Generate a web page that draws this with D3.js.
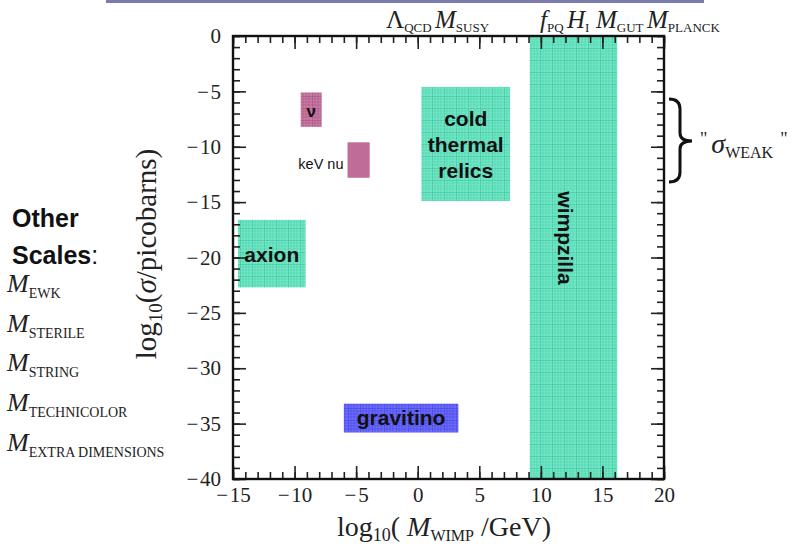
<!DOCTYPE html>
<html>
<head>
<meta charset="UTF-8">
<script src="https://d3js.org/d3.v7.min.js"></script>
<style>
  body { margin: 0; background: #fff; }
  svg { display: block; }
  .sans { font-family: 'Liberation Sans', Arial, sans-serif; }
  .tick text { font-family: 'Liberation Serif', serif; font-size: 21px; fill: #222; }
  .domain { display: none; }
</style>
</head>
<body>
<svg width="792" height="547"></svg>
<script>
  // axis ranges and ticks
  const xDomain = [-15, 20];
  const yDomain = [-40, 0];
  const xMajor = [-15, -10, -5, 0, 5, 10, 15, 20];
  const yMajor = [0, -5, -10, -15, -20, -25, -30, -35, -40];

  // candidate regions: [x0, x1] in log10(M/GeV), [y0, y1] in log10(sigma/pb)
  const regions = [
    { name: "axion", x: [-14.6, -9.1], y: [-22.7, -16.6], fill: "teal" },
    { name: "ν", x: [-9.5, -7.8], y: [-8.2, -5.1], fill: "pinkgrid" },
    { name: "keV nu", x: [-5.7, -3.9], y: [-12.8, -9.6], fill: "pink" },
    { name: "cold thermal relics", x: [0.3, 7.5], y: [-14.9, -4.6], fill: "teal" },
    { name: "gravitino", x: [-6.0, 3.3], y: [-35.8, -33.2], fill: "blue" },
    { name: "wimpzilla", x: [9.1, 16.2], y: [-40, 0], fill: "teal" }
  ];

  // scale labels above the plot: [symbol, subscript, italic]
  const topScales = [["Λ", "QCD", false], ["M", "SUSY", true], ["f", "PQ", true],
                     ["H", "I", true], ["M", "GUT", true], ["M", "PLANCK", true]];
  const topScaleX = [386, 435, 540, 567, 596, 647];
  const otherScales = ["EWK", "STERILE", "STRING", "TECHNICOLOR", "EXTRA DIMENSIONS"];

  const svg = d3.select("svg");
  const pl = 233, pr = 664, pt = 36, pb = 479;

  const x = d3.scaleLinear().domain(xDomain).range([pl, pr]);
  const y = d3.scaleLinear().domain(yDomain).range([pb, pt]);

  // grid patterns
  const defs = svg.append("defs");
  function gridPattern(id, bg, minor, major) {
    const p = defs.append("pattern").attr("id", id)
      .attr("patternUnits", "userSpaceOnUse")
      .attr("width", 12).attr("height", 12);
    p.append("rect").attr("width", 12).attr("height", 12).attr("fill", bg);
    [3, 6, 9].forEach(v => {
      p.append("line").attr("x1", v).attr("x2", v).attr("y1", 0).attr("y2", 12)
        .attr("stroke", minor).attr("stroke-width", 0.6);
      p.append("line").attr("y1", v).attr("y2", v).attr("x1", 0).attr("x2", 12)
        .attr("stroke", minor).attr("stroke-width", 0.6);
    });
    p.append("line").attr("x1", 0).attr("x2", 0).attr("y1", 0).attr("y2", 12)
      .attr("stroke", major).attr("stroke-width", 0.8);
    p.append("line").attr("y1", 0).attr("y2", 0).attr("x1", 0).attr("x2", 12)
      .attr("stroke", major).attr("stroke-width", 0.8);
  }
  gridPattern("teal", "#70e8c8", "#52cfaa", "#30b08e");
  gridPattern("pinkgrid", "#cc7aa8", "#a8557f", "#8f4068");
  gridPattern("blue", "#6b6bff", "#4a4ae0", "#3333c0");
  const fills = { teal: "url(#teal)", pinkgrid: "url(#pinkgrid)", blue: "url(#blue)", pink: "#c06c98" };

  // slide line at very top
  svg.append("line").attr("x1", 106).attr("x2", 704).attr("y1", 1.5).attr("y2", 1.5)
    .attr("stroke", "#7b7bb0").attr("stroke-width", 3);

  // regions
  svg.append("g").selectAll("rect").data(regions).enter().append("rect")
    .attr("x", d => x(d.x[0]))
    .attr("y", d => y(d.y[1]))
    .attr("width", d => x(d.x[1]) - x(d.x[0]))
    .attr("height", d => y(d.y[0]) - y(d.y[1]))
    .attr("fill", d => fills[d.fill]);

  // axes with inward ticks on all sides
  const xMinor = d3.range(xDomain[0], xDomain[1] + 1);
  const yMinor = d3.range(yDomain[0], yDomain[1] + 1);
  const fmt = d => d < 0 ? "\u2212\u200A" + Math.abs(d) : d;

  function axisPair(axisFn, scale, minor, major, tx, ty, labels, pad) {
    svg.append("g").attr("transform", `translate(${tx},${ty})`)
      .call(axisFn(scale).tickValues(minor).tickSize(-7).tickFormat(""))
      .selectAll("line").attr("stroke", "#222").attr("stroke-width", 1.6);
    const g = svg.append("g").attr("transform", `translate(${tx},${ty})`)
      .call(axisFn(scale).tickValues(major).tickSize(-13).tickPadding(pad || 9)
        .tickFormat(labels ? fmt : ""));
    g.selectAll("line").attr("stroke", "#222").attr("stroke-width", 1.6);
    return g;
  }
  axisPair(d3.axisBottom, x, xMinor, xMajor, 0, pb, true, 8);
  axisPair(d3.axisTop, x, xMinor, xMajor, 0, pt, false);
  axisPair(d3.axisLeft, y, yMinor, yMajor, pl, 0, true, 12);
  axisPair(d3.axisRight, y, yMinor, yMajor, pr, 0, false);

  svg.append("rect").attr("x", pl).attr("y", pt)
    .attr("width", pr - pl).attr("height", pb - pt)
    .attr("fill", "none").attr("stroke", "#111").attr("stroke-width", 2.4);

  // region labels
  const bold = { "font-family": "'Liberation Sans', Arial, sans-serif", "font-weight": "bold", fill: "#111" };
  function label(t, px, py, size, extra) {
    const e = svg.append("text").attr("x", px).attr("y", py).attr("text-anchor", "middle")
      .attr("font-size", size).text(t);
    Object.entries(Object.assign({}, bold, extra || {})).forEach(([k, v]) => e.attr(k, v));
    return e;
  }
  const midX = r => (x(r.x[0]) + x(r.x[1])) / 2;
  const midY = r => (y(r.y[0]) + y(r.y[1])) / 2;
  const ax = regions[0], nu = regions[1], kev = regions[2], ctr = regions[3], gr = regions[4], wz = regions[5];
  label("axion", midX(ax), midY(ax) + 8, 21);
  label("ν", midX(nu), midY(nu) + 7, 17);
  label("keV nu", x(kev.x[0]) - 4, midY(kev) + 9, 14.5, { "font-weight": "normal", "text-anchor": "end" });
  label("cold", midX(ctr), 126, 21);
  label("thermal", midX(ctr), 152, 21);
  label("relics", midX(ctr), 178, 21);
  label("gravitino", midX(gr), midY(gr) + 7, 21);
  label("wimpzilla", 0, 0, 21).attr("transform", `translate(${midX(wz) - 15},238) rotate(90)`);

  // axis titles
  const serif = "'Liberation Serif', 'DejaVu Serif', serif";
  const yt = svg.append("text").attr("font-family", serif).attr("font-size", 29).attr("fill", "#222")
    .attr("text-anchor", "middle").attr("transform", "translate(156,254) rotate(-90)");
  yt.append("tspan").text("log");
  yt.append("tspan").attr("font-size", 19).attr("dy", 6).text("10");
  yt.append("tspan").attr("dy", -6).text("(");
  yt.append("tspan").attr("font-style", "italic").text("σ");
  yt.append("tspan").text("/picobarns)");

  const xt = svg.append("text").attr("font-family", serif).attr("font-size", 28).attr("fill", "#222")
    .attr("text-anchor", "middle").attr("x", 444).attr("y", 536);
  xt.append("tspan").text("log");
  xt.append("tspan").attr("font-size", 18).attr("dy", 5).text("10");
  xt.append("tspan").attr("dy", -5).text("( ");
  xt.append("tspan").attr("font-style", "italic").text("M");
  xt.append("tspan").attr("font-size", 16).attr("dy", 5).text("WIMP");
  xt.append("tspan").attr("dy", -5).text(" /GeV)");

  // subscripted symbol label
  function scaleLabel(px, py, main, sub, italic, size, subSize, drop) {
    const t = svg.append("text").attr("font-family", serif).attr("font-size", size)
      .attr("fill", "#222").attr("x", px).attr("y", py);
    t.append("tspan").attr("font-style", italic ? "italic" : "normal").text(main);
    t.append("tspan").attr("font-size", subSize).attr("dy", drop).text(sub);
    return t;
  }
  topScales.forEach((s, i) => scaleLabel(topScaleX[i], 28, s[0], s[1], s[2], 25, 13, 4));

  // other scales list
  svg.append("text").attr("class", "sans").attr("x", 12).attr("y", 227)
    .attr("font-size", 25).attr("font-weight", "bold").attr("fill", "#111").text("Other");
  const sc = svg.append("text").attr("class", "sans").attr("x", 12).attr("y", 264)
    .attr("font-size", 25).attr("font-weight", "bold").attr("fill", "#111");
  sc.append("tspan").text("Scales");
  sc.append("tspan").attr("font-weight", "normal").text(":");
  otherScales.forEach((s, i) => {
    scaleLabel(7, 292 + i * 39.7, "M", s, true, 26, 14, 6);
  });

  // brace for sigma weak
  const bx = 669, b0 = 99, b1 = 182, bm = 141;
  svg.append("path")
    .attr("d", `M${bx},${b0} Q${bx + 11},${b0} ${bx + 11},${b0 + 10} L${bx + 11},${bm - 8} Q${bx + 11},${bm} ${bx + 23},${bm}
      Q${bx + 11},${bm} ${bx + 11},${bm + 8} L${bx + 11},${b1 - 10} Q${bx + 11},${b1} ${bx},${b1}`)
    .attr("fill", "none").attr("stroke", "#111").attr("stroke-width", 3);
  const sw = svg.append("text").attr("font-family", serif).attr("font-size", 28).attr("fill", "#222")
    .attr("x", 700).attr("y", 153);
  sw.append("tspan").attr("font-size", 18).attr("dy", -8).text("\"");
  sw.append("tspan").attr("font-style", "italic").attr("dy", 8).attr("dx", 4).text("σ");
  sw.append("tspan").attr("font-size", 16).attr("dy", 5).text("WEAK");
  sw.append("tspan").attr("font-size", 18).attr("dy", -13).attr("dx", 7).text("\"");
</script>
</body>
</html>
